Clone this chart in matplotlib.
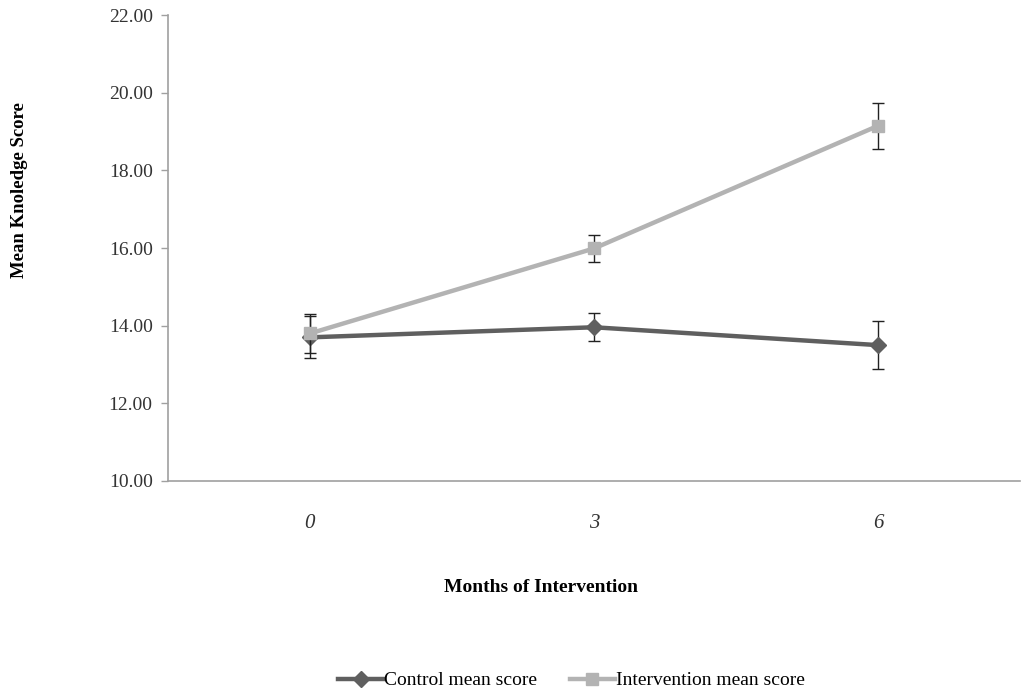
import matplotlib
matplotlib.use("Agg")
import matplotlib.pyplot as plt

months = ["0", "3", "6"]
control_mean = [13.70, 13.96, 13.50]
control_err = [0.54, 0.36, 0.61]
intervention_mean = [13.80, 15.99, 19.15]
intervention_err = [0.50, 0.36, 0.60]

plt.rcParams["font.family"] = ["Liberation Serif", "DejaVu Serif"]

fig = plt.figure(figsize=(10.24, 6.93), dpi=100)
ax = fig.add_axes([0.164, 0.306, 0.832, 0.672])

x = list(range(len(months)))
ax.errorbar(x, control_mean, yerr=control_err, color="#5f5f5f", lw=3.2,
            marker="D", ms=8, ecolor="#222222", elinewidth=1, capsize=4.5,
            capthick=1, label="Control mean score", zorder=3)
ax.errorbar(x, intervention_mean, yerr=intervention_err, color="#b3b3b3", lw=3.2,
            marker="s", ms=9, ecolor="#222222", elinewidth=1, capsize=4.5,
            capthick=1, label="Intervention mean score", zorder=4)

ax.set_xlim(-0.5, 2.5)
ax.set_ylim(10, 22)
ax.set_yticks([10, 12, 14, 16, 18, 20, 22])
ax.set_yticklabels([f"{v:.2f}" for v in [10, 12, 14, 16, 18, 20, 22]], fontsize=14, color="#333333")
ax.set_xticks(x)
ax.set_xticklabels(months, fontsize=15, style="italic", color="#333333")
ax.tick_params(axis="x", length=0, pad=24)
ax.tick_params(axis="y", length=5, color="#a0a0a0", width=1, pad=6)

for side in ["top", "right"]:
    ax.spines[side].set_visible(False)
for side in ["left", "bottom"]:
    ax.spines[side].set_color("#a0a0a0")
    ax.spines[side].set_linewidth(1.2)

ax.set_ylabel("Mean Knoledge Score", fontsize=13.5, fontweight="bold")
ax.yaxis.set_label_coords(-0.164, 0.625)
ax.set_xlabel("Months of Intervention", fontsize=14, fontweight="bold")
ax.xaxis.set_label_coords(0.438, -0.21)

handles, labels = ax.get_legend_handles_labels()
handles = [h[0] for h in handles]
fig.legend(handles, labels, loc="center", bbox_to_anchor=(0.558, 0.018), ncol=2,
           frameon=False, fontsize=14, handlelength=2.3, handletextpad=0.05,
           columnspacing=1.7)

fig.savefig("out.png", dpi=100, facecolor="white")
